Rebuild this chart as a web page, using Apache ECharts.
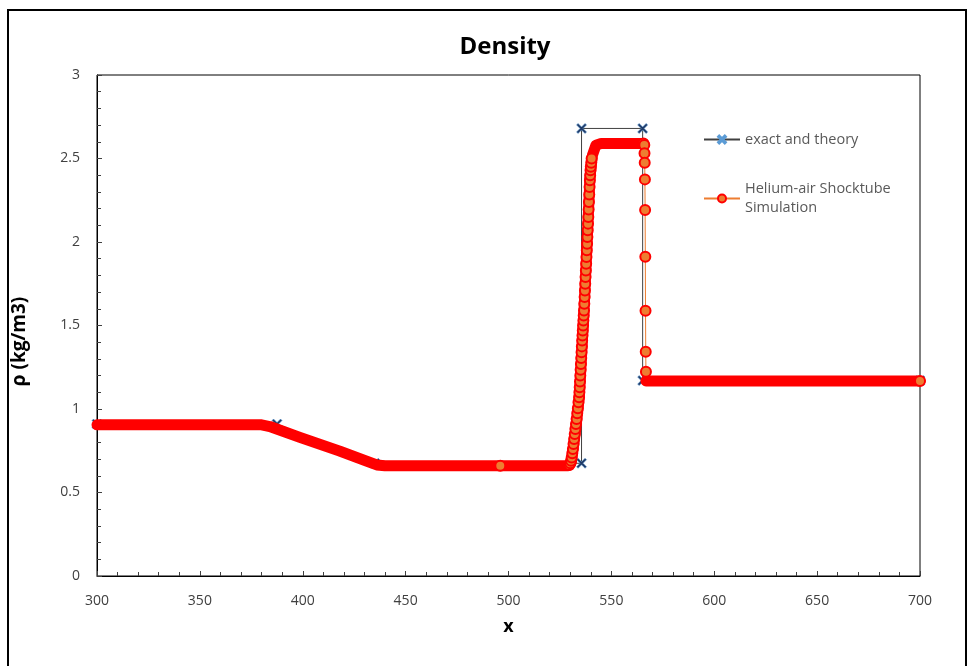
<!DOCTYPE html>
<html>
<head>
<meta charset="utf-8">
<title>Density</title>
<script src="https://cdn.jsdelivr.net/npm/echarts@6/dist/echarts.min.js"></script>
<style>
  html, body { margin: 0; padding: 0; background: #fff; }
  #chart { width: 971px; height: 666px; }
</style>
</head>
<body>
<div id="chart"></div>
<script>
// Axis ticks
const xTicks = { min: 300, max: 700, step: 50 };
const yTicks = { min: 0, max: 3, step: 0.5 };

// Exact / theoretical solution (x, density)
const theoryX = [300, 387.5, 435, 535.5, 535.5, 565.2, 565.2, 700];
const theoryY = [0.91, 0.91, 0.675, 0.675, 2.68, 2.68, 1.17, 1.17];

// Simulation: densely sampled regions read as a continuous trace
const traceX = [300, 380, 384, 398.6, 418, 432, 436, 440, 529, 530.5, 532.5, 534.4, 536.7, 538.2, 539.6, 540.8, 542.5, 545, 565.5, null, 566.8, 700];
const traceY = [0.905, 0.905, 0.895, 0.83, 0.748, 0.683, 0.665, 0.66, 0.66, 0.68, 0.86, 1.07, 1.59, 1.99, 2.39, 2.52, 2.58, 2.59, 2.59, null, 1.168, 1.168];

// Simulation: individually visible cells (null separates disjoint groups)
const cellX = [
  496, null,
  529.6, 530.0, 530.4, 530.7, 531.0, 531.3, 531.6, 531.9, 532.2, 532.5, 532.8, 533.1, 533.4, 533.7, 534.0, 534.3,
  534.45, 534.6, 534.75, 534.9, 535.05, 535.2, 535.35, 535.5, 535.65, 535.8, 535.95, 536.1, 536.25, 536.4, 536.55, 536.7,
  536.85, 537.0, 537.15, 537.3, 537.45, 537.6, 537.75, 537.9, 538.05, 538.2, 538.35, 538.5, 538.65, 538.8, 538.95, 539.1,
  539.25, 539.4, 539.55, 539.7, 539.85, 540.0, 540.2, 540.4,
  null,
  565.6, 566.0, 566.1, 566.2, 566.3, 566.4, 566.5, 566.6, 566.7, 566.8,
  null, 700
];
const cellY = [
  0.66, null,
  0.665, 0.675, 0.69, 0.71, 0.735, 0.76, 0.79, 0.82, 0.85, 0.88, 0.91, 0.94, 0.975, 1.005, 1.04, 1.07,
  1.10, 1.13, 1.165, 1.20, 1.235, 1.27, 1.305, 1.34, 1.375, 1.41, 1.44, 1.47, 1.50, 1.53, 1.56, 1.59,
  1.63, 1.67, 1.71, 1.75, 1.79, 1.83, 1.87, 1.91, 1.95, 1.99, 2.03, 2.07, 2.11, 2.15, 2.195, 2.24,
  2.285, 2.33, 2.37, 2.40, 2.43, 2.45, 2.475, 2.50,
  null,
  2.59, 2.581, 2.531, 2.475, 2.375, 2.192, 1.912, 1.589, 1.343, 1.223,
  null, 1.168
];

const THEORY = 'exact and theory';
const SIM = 'Helium-air Shocktube Simulation';

function pairs(xs, ys) {
  return xs.map((x, i) => (x === null ? ['-', '-'] : [x, ys[i]]));
}

const crossSymbol = 'path://M1.5,0 L5,3.5 L8.5,0 L10,1.5 L6.5,5 L10,8.5 L8.5,10 L5,6.5 L1.5,10 L0,8.5 L3.5,5 L0,1.5 Z';
const font = '"Open Sans", "Liberation Sans", sans-serif';

const chart = echarts.init(document.getElementById('chart'), null, { renderer: 'canvas' });

chart.setOption({
  animation: false,
  backgroundColor: '#fff',
  title: {
    text: 'Density',
    left: 500,
    top: 30,
    textAlign: 'center',
    textStyle: { fontFamily: font, fontSize: 24, fontWeight: 'bold', color: '#000' }
  },
  graphic: [{
    type: 'rect',
    shape: { x: 8, y: 10, width: 958, height: 660 },
    style: { fill: 'none', stroke: '#000', lineWidth: 2 },
    silent: true,
    z: 100
  }],
  legend: {
    orient: 'vertical',
    left: 703,
    top: 130,
    padding: 0,
    itemGap: 21,
    itemWidth: 36,
    itemHeight: 10,
    data: [
      { name: THEORY },
      { name: SIM, textStyle: { padding: [19, 0, 0, 0] } }
    ],
    formatter: function (name) {
      return name === SIM ? 'Helium-air Shocktube\nSimulation' : name;
    },
    textStyle: { fontFamily: font, fontSize: 14.5, color: '#595959', lineHeight: 19 }
  },
  grid: {
    left: 97, right: 51, top: 75, bottom: 90,
    show: true, borderColor: '#000', borderWidth: 1,
    containLabel: false
  },
  xAxis: {
    type: 'value',
    min: xTicks.min, max: xTicks.max, interval: xTicks.step,
    name: 'x',
    nameLocation: 'middle',
    nameGap: 42,
    nameTextStyle: { fontFamily: font, fontSize: 18, fontWeight: 'bold', color: '#000' },
    axisLine: { show: true, onZero: false, lineStyle: { color: '#000', width: 1 } },
    axisTick: { show: true, inside: true, length: 5, lineStyle: { color: '#404040' } },
    minorTick: { show: true, splitNumber: 5, length: 4, lineStyle: { color: '#404040' } },
    axisLabel: { fontFamily: font, fontSize: 14, color: '#404040', margin: 18 },
    splitLine: { show: false }
  },
  yAxis: {
    type: 'value',
    min: yTicks.min, max: yTicks.max, interval: yTicks.step,
    name: 'ρ (kg/m3)',
    nameLocation: 'middle',
    nameGap: 68,
    nameTextStyle: { fontFamily: font, fontSize: 19, fontWeight: 'bold', color: '#000', padding: [0, 32, 0, 0] },
    axisLine: { show: true, onZero: false, lineStyle: { color: '#000', width: 1 } },
    axisTick: { show: true, inside: true, length: 5, lineStyle: { color: '#404040' } },
    minorTick: { show: true, splitNumber: 5, length: 4, lineStyle: { color: '#404040' } },
    axisLabel: { fontFamily: font, fontSize: 14, color: '#404040', margin: 17 },
    splitLine: { show: false }
  },
  series: [
    {
      name: THEORY,
      type: 'line',
      z: 2,
      data: pairs(theoryX, theoryY),
      symbol: crossSymbol,
      symbolSize: 10,
      symbolKeepAspect: true,
      lineStyle: { color: '#404040', width: 1 },
      itemStyle: { color: '#1F3864', borderColor: '#5B9BD5', borderWidth: 0.6 }
    },
    {
      name: 'trace',
      type: 'line',
      z: 3,
      data: pairs(traceX, traceY),
      showSymbol: false,
      symbol: 'none',
      lineStyle: { color: '#FF0000', width: 11, cap: 'round', join: 'round' }
    },
    {
      name: SIM,
      type: 'line',
      z: 4,
      data: pairs(cellX, cellY),
      symbol: 'circle',
      symbolSize: 10,
      showSymbol: true,
      lineStyle: { color: '#ED7D31', width: 1 },
      itemStyle: { color: '#ED7D31', borderColor: '#FF0000', borderWidth: 2 }
    }
  ]
});
</script>
</body>
</html>
